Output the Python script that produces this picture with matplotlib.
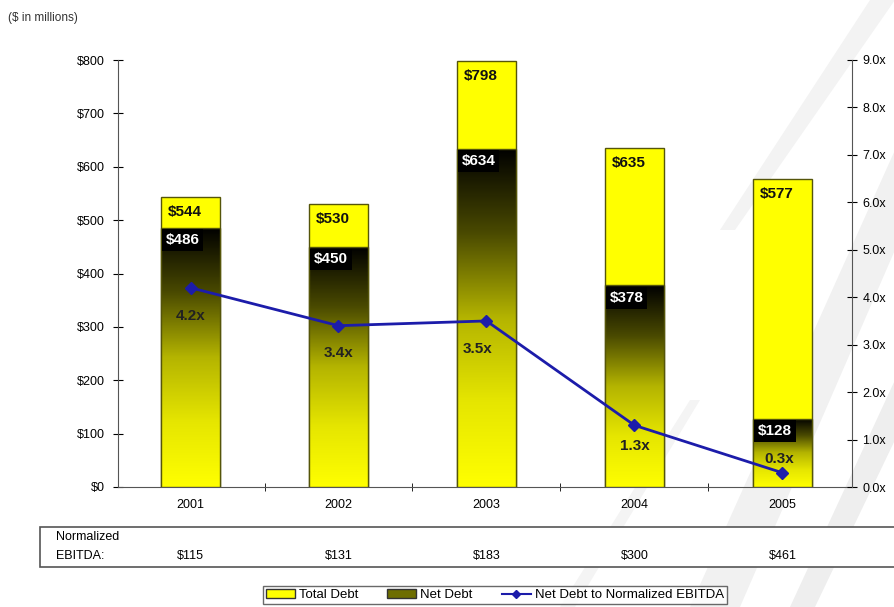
import numpy as np
import matplotlib
matplotlib.use("Agg")
import matplotlib.pyplot as plt
from matplotlib.patches import Rectangle, Polygon
from matplotlib.colors import LinearSegmentedColormap
from matplotlib.lines import Line2D

# Data ($ in millions)
jaren = ["2001", "2002", "2003", "2004", "2005"]
totaleSchuld = [544, 530, 798, 635, 577]
nettoSchuld = [486, 450, 634, 378, 128]
ratio = [4.2, 3.4, 3.5, 1.3, 0.3]
ebitda = ["$115", "$131", "$183", "$300", "$461"]

plt.rcParams['font.family'] = ["Liberation Sans", "DejaVu Sans"]

W, H = 895, 607
fig = plt.figure(figsize=(W / 100, H / 100), dpi=100)

# achtergrond met lichte schuine vormen rechts
bg = fig.add_axes([0, 0, 1, 1], zorder=-10)
bg.set_xlim(0, W)
bg.set_ylim(H, 0)
bg.axis("off")
for pts, kleur in (([(690, 607), (740, 607), (895, 250), (895, 150)], "#f1f1f1"),
                   ([(790, 607), (815, 607), (895, 440), (895, 380)], "#eeeeee"),
                   ([(720, 230), (735, 230), (895, 0), (870, 0)], "#f3f3f3"),
                   ([(560, 607), (575, 607), (700, 400), (690, 400)], "#f4f4f4")):
    bg.add_patch(Polygon(pts, closed=True, facecolor=kleur, edgecolor="none"))

ax = fig.add_axes([118 / W, 1 - 487 / H, (852 - 118) / W, (487 - 60) / H])
ax.patch.set_alpha(0)
x = np.arange(len(jaren))
breedte = 0.4

ax.bar(x, totaleSchuld, width=breedte, color="#ffff00", edgecolor="#55550a", linewidth=1, zorder=2)

# netto schuld als verloop van zwart naar geel
cmap = LinearSegmentedColormap.from_list("zwartgeel", ["#000000", "#4a4a00", "#b4b400", "#e6e600", "#ffff00"])
grad = np.linspace(0, 1, 256).reshape(-1, 1)
for xi, v in zip(x, nettoSchuld):
    rect = Rectangle((xi - breedte / 2, 0), breedte, v, facecolor="none",
                     edgecolor="#55550a", linewidth=1, zorder=4)
    ax.add_patch(rect)
    im = ax.imshow(grad, cmap=cmap, aspect="auto", zorder=3,
                   extent=(xi - breedte / 2, xi + breedte / 2, 0, v), origin="upper")
    im.set_clip_path(rect)

ax.set_xlim(-0.49, 4.47)
ax.set_ylim(0, 800)
ax.set_yticks(range(0, 801, 100))
ax.set_yticklabels(["$%d" % v for v in range(0, 801, 100)], fontsize=9)
ax.set_xticks(x)
ax.set_xticklabels(jaren, fontsize=9)
ax.set_xticks(x[:-1] + 0.5, minor=True)
ax.tick_params(axis="x", which="major", length=0, pad=9)
ax.tick_params(axis="x", which="minor", length=6, direction="inout")
ax.tick_params(axis="y", length=7, direction="inout", pad=6)
ax.spines["top"].set_visible(False)
ax.spines["right"].set_visible(False)
for s in ("left", "bottom"):
    ax.spines[s].set_color("#555555")

# waardelabels links uitgelijnd binnen de staaf
for xi, v in zip(x, totaleSchuld):
    ax.annotate("$%d" % v, (xi - breedte / 2, v), xytext=(5, -6), textcoords="offset points",
                ha="left", va="top", fontsize=11, fontweight="bold", color="#111111", zorder=6)
for xi, v in zip(x, nettoSchuld):
    ax.annotate("$%d" % v, (xi - breedte / 2, v), xytext=(3.5, -4), textcoords="offset points",
                ha="left", va="top", fontsize=11, fontweight="bold", color="white", zorder=6,
                bbox=dict(boxstyle="square,pad=0.25", facecolor="black", edgecolor="none"))

ax2 = ax.twinx()
ax2.set_ylim(0, 9)
ax2.set_yticks(np.arange(0, 9.1, 1))
ax2.set_yticklabels(["%.1fx" % v for v in np.arange(0, 9.1, 1)], fontsize=9)
ax2.tick_params(axis="y", length=7, direction="inout", pad=4)
ax2.spines["top"].set_visible(False)
ax2.spines["left"].set_visible(False)
ax2.spines["bottom"].set_visible(False)
ax2.spines["right"].set_color("#555555")
ax2.plot(x, ratio, color="#1c1caa", linewidth=2, marker="D", markersize=6, zorder=7)

verschuiving = [(0, -20), (0, -20), (-0.06, -20), (0, -15), (-0.02, 10)]
for xi, r, (dx, dy) in zip(x, ratio, verschuiving):
    ax2.annotate("%.1fx" % r, (xi + dx, r), xytext=(0, dy), textcoords="offset points",
                 ha="center", va="center", fontsize=11, fontweight="bold", color="#222222", zorder=8)

# tabel met genormaliseerde EBITDA
bg.add_patch(Rectangle((40, 527), 900, 40, facecolor="white", edgecolor="#555555", linewidth=1.2))
fig.text(56 / W, 1 - 537 / H, "Normalized", fontsize=9, va="center")
fig.text(56 / W, 1 - 556 / H, "EBITDA:", fontsize=9, va="center")
for xi, e in zip(x, ebitda):
    fx = fig.transFigure.inverted().transform(ax.transData.transform((xi, 0)))[0]
    fig.text(fx, 1 - 556 / H, e, fontsize=9, ha="center", va="center")

fig.text(8 / W, 1 - 18 / H, "($ in millions)", fontsize=8.5, va="center", color="#333333")

handles = [Rectangle((0, 0), 1, 1, facecolor="#ffff00", edgecolor="#333333"),
           Rectangle((0, 0), 1, 1, facecolor="#6e6e00", edgecolor="#333333"),
           Line2D([], [], color="#1c1caa", marker="D", markersize=4, linewidth=1.5)]
fig.legend(handles, ["Total Debt", "Net Debt", "Net Debt to Normalized EBITDA"],
           loc="center", bbox_to_anchor=(495 / W, 1 - 595 / H), ncol=3,
           frameon=True, fancybox=False, edgecolor="#444444", handlelength=2.2,
           handleheight=0.6, handletextpad=0.3, columnspacing=2.2, borderpad=0.2,
           prop={"size": 9.5})

fig.savefig("out.png", dpi=100)
